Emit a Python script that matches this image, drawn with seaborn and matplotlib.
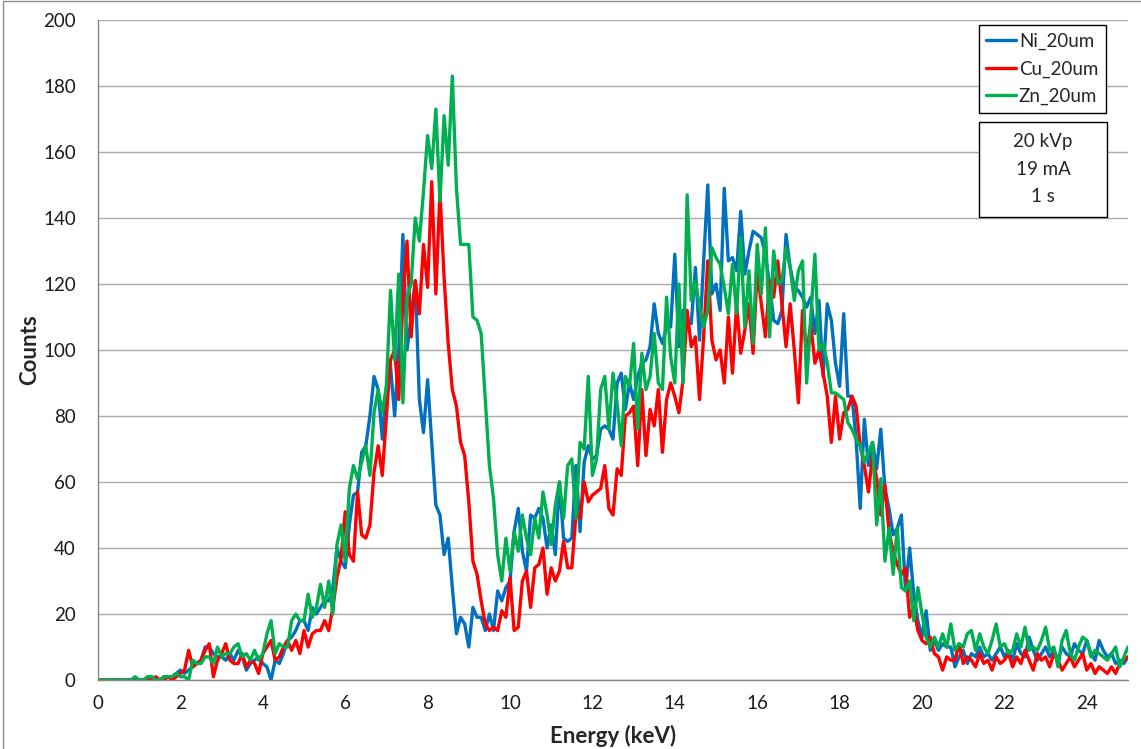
import numpy as np
import pandas as pd
import matplotlib
matplotlib.use("Agg")
import matplotlib.pyplot as plt
from matplotlib.patches import Rectangle
from matplotlib.lines import Line2D
import seaborn as sns

# ---------------- data (counts per 0.1 keV channel, 0.0 ... 25.0 keV) ----------------
series_names = ["Ni_20um", "Cu_20um", "Zn_20um"]
series_colors = ["#0070C0", "#FF0000", "#00B050"]

ni_counts = [
    0, 0, 0, 0, 0, 0, 0, 0, 0, 0,
    0, 0, 0, 1, 0, 0, 1, 1, 1, 2,
    3, 2, 3, 4, 5, 6, 10, 10, 8, 7,
    7, 6, 8, 6, 9, 7, 3, 5, 6, 7,
    5, 4, 0, 6, 5, 8, 12, 13, 15, 18,
    18, 15, 22, 20, 22, 24, 24, 28, 40, 36,
    34, 47, 56, 57, 69, 71, 80, 92, 88, 73,
    89, 95, 80, 100, 135, 100, 110, 121, 85, 75,
    91, 72, 53, 50, 38, 43, 28, 14, 19, 17,
    10, 22, 19, 19, 15, 20, 15, 27, 24, 28,
    30, 45, 52, 39, 33, 50, 49, 52, 49, 40,
    47, 38, 60, 43, 42, 43, 65, 45, 66, 71,
    67, 68, 76, 77, 76, 73, 90, 93, 82, 90,
    85, 92, 96, 97, 101, 114, 105, 102, 107, 107,
    129, 101, 112, 108, 108, 125, 103, 127, 150, 117,
    120, 112, 149, 127, 128, 124, 142, 123, 130, 136,
    135, 134, 129, 120, 109, 108, 112, 135, 125, 119,
    118, 116, 113, 116, 105, 115, 92, 114, 109, 96,
    89, 111, 86, 86, 73, 52, 79, 65, 72, 64,
    76, 58, 52, 44, 46, 50, 27, 40, 26, 18,
    13, 21, 9, 12, 9, 11, 10, 10, 4, 7,
    9, 5, 8, 7, 10, 7, 8, 6, 8, 10,
    7, 9, 6, 11, 8, 7, 13, 9, 6, 8,
    10, 7, 9, 6, 10, 8, 7, 11, 9, 8,
    12, 8, 6, 12, 9, 7, 8, 5, 6, 5,
    7,
]

cu_counts = [
    0, 0, 0, 0, 0, 0, 0, 0, 0, 0,
    0, 0, 0, 0, 1, 0, 0, 1, 0, 1,
    2, 3, 9, 4, 5, 6, 9, 11, 1, 6,
    8, 11, 6, 5, 5, 8, 4, 6, 5, 2,
    8, 10, 12, 6, 7, 10, 12, 9, 12, 8,
    15, 10, 14, 15, 15, 18, 15, 22, 31, 37,
    51, 38, 36, 57, 44, 43, 47, 63, 71, 62,
    80, 97, 100, 85, 115, 133, 104, 121, 111, 132,
    119, 151, 117, 148, 122, 102, 88, 83, 72, 68,
    54, 36, 32, 24, 17, 15, 16, 15, 21, 19,
    31, 15, 16, 30, 33, 22, 34, 35, 40, 26,
    34, 30, 33, 42, 34, 34, 50, 49, 60, 54,
    56, 57, 58, 65, 52, 50, 64, 62, 80, 81,
    83, 65, 88, 68, 82, 77, 88, 69, 85, 90,
    86, 81, 91, 112, 101, 104, 85, 104, 127, 103,
    97, 100, 90, 110, 93, 114, 99, 106, 114, 99,
    124, 114, 104, 121, 116, 127, 114, 101, 114, 100,
    84, 112, 99, 108, 96, 100, 93, 86, 72, 86,
    73, 81, 82, 86, 83, 71, 65, 57, 68, 61,
    50, 59, 45, 39, 35, 32, 34, 19, 22, 15,
    12, 11, 13, 8, 7, 3, 7, 6, 6, 11,
    5, 7, 6, 4, 8, 5, 6, 3, 7, 5,
    6, 8, 4, 7, 5, 9, 6, 3, 8, 6,
    7, 4, 8, 6, 3, 5, 7, 4, 6, 8,
    3, 5, 2, 4, 3, 2, 4, 2, 5, 6,
    7,
]

zn_counts = [
    0, 0, 0, 0, 0, 0, 0, 0, 0, 1,
    0, 0, 1, 1, 0, 0, 1, 1, 1, 2,
    1, 1, 0, 6, 5, 5, 7, 7, 5, 10,
    7, 8, 8, 10, 11, 7, 8, 6, 9, 6,
    8, 14, 18, 8, 11, 10, 10, 18, 20, 18,
    18, 26, 19, 22, 29, 22, 30, 20, 41, 47,
    36, 58, 65, 61, 66, 71, 62, 81, 88, 81,
    89, 118, 97, 123, 84, 116, 120, 140, 133, 148,
    165, 155, 173, 145, 171, 156, 183, 149, 132, 132,
    132, 110, 109, 105, 85, 65, 55, 38, 30, 43,
    33, 45, 39, 50, 43, 38, 49, 43, 57, 50,
    41, 53, 60, 49, 65, 67, 49, 72, 70, 92,
    62, 67, 88, 92, 76, 93, 84, 71, 92, 89,
    102, 76, 99, 88, 92, 105, 90, 88, 116, 98,
    90, 120, 90, 147, 115, 121, 113, 107, 112, 131,
    128, 126, 119, 111, 126, 111, 134, 107, 124, 102,
    132, 117, 137, 104, 130, 120, 121, 131, 125, 115,
    124, 127, 90, 110, 129, 100, 102, 96, 87, 87,
    86, 85, 78, 76, 73, 71, 66, 69, 72, 47,
    61, 36, 46, 32, 46, 28, 27, 30, 18, 28,
    20, 13, 10, 13, 10, 14, 10, 17, 9, 11,
    10, 14, 15, 9, 14, 10, 8, 12, 17, 10,
    11, 8, 9, 14, 10, 16, 9, 10, 9, 12,
    16, 9, 10, 4, 12, 15, 8, 6, 10, 13,
    12, 7, 9, 8, 7, 6, 8, 10, 4, 7,
    10,
]

x_ticks = list(range(0, 25, 2))
y_ticks = list(range(0, 201, 20))
info_lines = ["20 kVp", "19 mA", "1 s"]

energy = np.round(np.arange(len(ni_counts)) * 0.1, 1)

df = pd.DataFrame({"Energy": energy,
                   series_names[0]: ni_counts,
                   series_names[1]: cu_counts,
                   series_names[2]: zn_counts})
long_df = df.melt(id_vars="Energy", var_name="Series", value_name="Counts")

# ---------------- plot ----------------
sns.set_style("white")
plt.rcParams["font.family"] = ["Lato", "DejaVu Sans"]

fig = plt.figure(figsize=(11.41, 7.49), dpi=100)
ax = fig.add_axes([0.0859, 0.0921, 0.9027, 0.8812])

sns.lineplot(data=long_df, x="Energy", y="Counts", hue="Series",
             hue_order=series_names, palette=series_colors,
             linewidth=2.4, estimator=None, sort=False, legend=False, ax=ax)

ax.set_xlim(0, 25)
ax.set_ylim(0, 200)
ax.set_xticks(x_ticks)
ax.set_yticks(y_ticks)
ax.yaxis.grid(True, color="#ABABAB", linewidth=1.0)
ax.xaxis.grid(False)
ax.set_axisbelow(True)

for side in ["top", "right"]:
    ax.spines[side].set_visible(False)
for side in ["left", "bottom"]:
    ax.spines[side].set_color("#868686")
    ax.spines[side].set_linewidth(1.0)

ax.tick_params(axis="both", which="major", direction="out", length=6,
               width=1, color="#868686", labelsize=13.5, labelcolor="#1a1a1a")
ax.tick_params(axis="x", pad=5)
ax.tick_params(axis="y", pad=10)

ax.set_xlabel("Energy (keV)", fontsize=16, fontweight="bold", labelpad=9)
ax.set_ylabel("Counts", fontsize=16, fontweight="bold", labelpad=2)

handles = [Line2D([0], [0], color=c, lw=2.4) for c in series_colors]
leg = ax.legend(handles, series_names, loc="upper left",
                bbox_to_anchor=(0.855, 0.992), fontsize=13.5, frameon=True,
                fancybox=False, edgecolor="black", framealpha=1,
                handlelength=1.6, handletextpad=0.15, borderpad=0.4,
                labelspacing=0.55, borderaxespad=0)
leg.get_frame().set_linewidth(1.0)

ax.add_patch(Rectangle((0.855, 0.702), 0.125, 0.143, transform=ax.transAxes,
                       facecolor="white", edgecolor="black", linewidth=1.0,
                       zorder=5))
ax.text(0.9175, 0.7735, "\n".join(info_lines), transform=ax.transAxes,
        ha="center", va="center", fontsize=13.5, linespacing=1.75, zorder=6)

# outer figure frame (left and top edges visible in the reference)
fig.add_artist(Line2D([0.003, 0.003], [0.0, 0.998], transform=fig.transFigure,
                      color="#8c8c8c", lw=1))
fig.add_artist(Line2D([0.003, 1.0], [0.998, 0.998], transform=fig.transFigure,
                      color="#8c8c8c", lw=1))

fig.savefig("out.png", dpi=100)
